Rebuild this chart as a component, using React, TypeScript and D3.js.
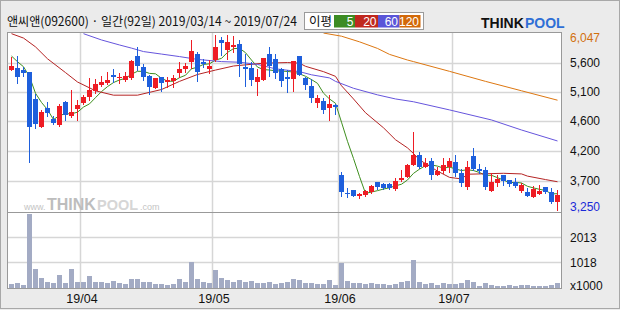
import React from 'react';
import * as d3 from 'd3';

const dates = [
  '03/14','03/15','03/18','03/19','03/20','03/21','03/22','03/25','03/26','03/27','03/28','03/29',
  '04/01','04/02','04/03','04/04','04/05','04/08','04/09','04/10','04/11','04/12','04/15','04/16','04/17','04/18','04/19','04/22','04/23','04/24','04/25','04/26','04/29','04/30',
  '05/02','05/03','05/07','05/08','05/09','05/10','05/13','05/14','05/15','05/16','05/17','05/20','05/21','05/22','05/23','05/24','05/27','05/28','05/29','05/30','05/31',
  '06/03','06/04','06/05','06/07','06/10','06/11','06/12','06/13','06/14','06/17','06/18','06/19','06/20','06/21','06/24','06/25','06/26','06/27','06/28',
  '07/01','07/02','07/03','07/04','07/05','07/08','07/09','07/10','07/11','07/12','07/15','07/16','07/17','07/18','07/19','07/22','07/23','07/24',
];

const opens = [5486,5513,5481,5449,5019,4577,4875,4705,4609,4971,4748,4859,4955,5056,5142,5242,5274,5406,5354,5322,5358,5704,5529,5385,5194,5370,5290,5306,5433,5497,5609,5736,5609,5497,5641,5959,5800,5843,5896,5529,5513,5290,5322,5736,5656,5497,5370,5342,5704,5358,5226,4960,4992,4880,4923,3807,3525,3568,3473,3484,3541,3696,3664,3664,3584,3732,3780,3972,4126,3940,4031,3812,3871,3930,4015,3839,3621,4110,3903,3887,3557,3680,3807,3727,3696,3557,3536,3462,3509,3616,3536,3377];
const highs = [5684,5704,5524,5449,5094,4844,4971,4748,4939,4992,5162,5003,5083,5354,5338,5385,5449,5497,5433,5449,5641,5853,5577,5402,5354,5370,5370,5402,5609,5593,5959,5768,5656,5641,6047,6007,6040,6023,5959,5736,5609,5497,5672,5848,5736,5513,5481,5625,5704,5374,5338,5078,5030,5078,4939,3860,3600,3568,3525,3568,3648,3696,3680,3675,3755,3887,3983,4488,4169,4074,4074,3930,4074,4074,4126,3898,4031,4238,3983,3930,3835,3807,3807,3727,3755,3675,3595,3627,3648,3616,3595,3573];
const lows = [5486,5279,5390,4019,4561,4577,4748,4625,4593,4684,4737,4684,4939,5003,5110,5226,5258,5295,5274,5306,5342,5481,5322,5094,5194,5151,5215,5215,5370,5454,5513,5306,5524,5429,5629,5720,5656,5768,5385,5226,5242,5083,5322,5385,5358,5226,5126,5151,5402,5178,4976,4896,4791,4684,4775,3477,3452,3477,3446,3473,3525,3589,3584,3589,3568,3712,3771,3962,3914,3940,3748,3812,3835,3860,3791,3637,3589,3892,3835,3580,3557,3632,3648,3632,3621,3541,3477,3452,3500,3516,3356,3250];
const closes = [5545,5374,5433,4577,4625,4812,4800,4641,4907,4759,4812,4923,5051,5162,5258,5290,5322,5374,5370,5385,5625,5550,5370,5205,5354,5269,5322,5354,5497,5545,5784,5449,5577,5545,5848,5912,5927,5875,5577,5497,5322,5370,5672,5545,5433,5306,5333,5625,5402,5242,5040,5035,4844,4939,4896,3532,3509,3477,3505,3552,3637,3621,3605,3605,3712,3760,3962,4131,3940,3994,3812,3871,3967,4031,3839,3685,3935,3903,3876,3611,3691,3744,3712,3669,3637,3643,3477,3584,3557,3541,3377,3488];
const volumes = [155,207,115,2941,752,394,235,195,513,195,752,235,235,474,235,235,195,275,195,155,354,354,235,235,155,155,115,155,354,235,1031,354,235,195,712,394,314,235,314,235,275,195,195,235,155,195,235,354,314,195,195,155,155,314,115,995,275,195,195,155,195,155,155,115,155,235,275,1110,235,155,195,115,195,155,155,195,314,235,75,195,115,75,75,115,75,115,115,75,75,75,115,195];

// closes of the 4 sessions before 03/14 (needed for the 5-day average)
const prevCloses = [5830, 5830, 5375, 5940];

// moving averages: [session index, value]
const ma20Points: [number, number][] = [[0,6060],[2,5990],[4,5850],[6,5660],[9,5440],[11,5290],[14,5150],[17,5080],[21,5080],[25,5170],[28,5300],[31,5410],[34,5480],[37,5545],[42,5590],[46,5600],[48,5590],[49,5540],[52,5455],[54,5380],[55,5230],[57,5020],[59,4800],[62,4560],[64,4370],[66,4240],[67,4150],[68,4050],[71,3870],[73,3770],[75,3745],[76,3820],[82,3835],[85,3825],[86,3790],[89,3735],[91,3700]];
const ma60Points: [number, number][] = [[12,6060],[15,5960],[18,5880],[20,5830],[22,5775],[25,5735],[28,5695],[31,5650],[35,5615],[38,5605],[41,5570],[44,5500],[48,5455],[50,5405],[53,5355],[54,5300],[57,5190],[61,5085],[64,5020],[67,4975],[73,4845],[80,4685],[85,4525],[91,4350]];
const ma120Points: [number, number][] = [[52,6070],[55,6020],[58,5930],[61,5825],[63,5730],[66,5640],[67,5615],[73,5460],[79,5300],[85,5150],[91,5000]];

const priceGridValues = [5588, 5130, 4668, 4195, 3717];
const priceTickLabels = ['5,600', '5,100', '4,600', '4,200', '3,700'];
const priceMax = 6047;
const priceMin = 3250;
const volGridValues = [2013, 1018];
const volTickLabels = ['2013', '1018'];
const monthStarts = ['04/01', '05/02', '06/03', '07/01'];
const monthLabels = ['19/04', '19/05', '19/06', '19/07'];

const title = '앤씨앤(092600) · 일간(92일) 2019/03/14 ~ 2019/07/24';
const legendLabels = ['5', '20', '60', '120'];

const RED = '#ee1c24';
const BLUE = '#1e5fdc';
const MA_COLORS = ['#3f8f1f', '#b52424', '#6655dd', '#dd7711'];
const LEGEND_BG = ['#3c8c23', '#c0281e', '#5a55d8', '#d2690a'];

export default function App() {
  const L = 7.5, R = 561.5, T = 32.5, MID = 212.5, B = 288.5;
  const x = d3.scaleBand<string>().domain(dates).range([8.5, 560.5]).paddingInner(1 / 6).paddingOuter(1 / 12);
  const bw = x.bandwidth();
  const step = x.step();
  const cx = (i: number) => (x(dates[i]) as number) + bw / 2;
  const yP = d3.scaleLinear().domain([priceMin, priceMax]).range([210, 34.5]);
  const yV = d3.scaleLinear().domain([0, 2013]).range([288, 237.4]);

  const all = [...prevCloses, ...closes];
  const ma5: [number, number][] = closes.map((_, i) => [i, d3.mean(all.slice(i, i + 5)) as number]);

  const line = d3.line<[number, number]>().x(d => cx(d[0])).y(d => yP(d[1]));
  const maSeries = [ma5, ma20Points, ma60Points, ma120Points];

  const font = 'Liberation Sans, Arial, sans-serif';
  const kfont = '"Noto Sans CJK KR", sans-serif';

  return (
    <svg width={620} height={310} style={{ position: 'absolute', left: 0, top: 0, display: 'block' }}>
      <defs>
        <clipPath id="pclip"><rect x={8} y={33} width={553} height={179} /></clipPath>
      </defs>
      <rect x={0} y={0} width={620} height={310} fill="#ebebeb" />
      <rect x={0.5} y={0.5} width={619} height={308} fill="none" stroke="#a8a8a8" />

      {/* title */}
      <text x={7} y={26} fontFamily={kfont} fontSize={12.5} fill="#111" textLength={290} lengthAdjust="spacingAndGlyphs">{title}</text>

      {/* legend */}
      <rect x={304.5} y={12.5} width={119} height={17} fill="#fff" stroke="#9a9a9a" />
      <text x={309} y={26} fontFamily={kfont} fontSize={12.5} fill="#111">이평</text>
      {legendLabels.map((lab, k) => {
        const xs = [334, 355, 378, 399.5, 420.5];
        return (
          <g key={lab}>
            <rect x={xs[k]} y={15} width={xs[k + 1] - xs[k]} height={12.5} fill={LEGEND_BG[k]} />
            <text x={xs[k + 1] - 1.5} y={25.5} textAnchor="end" fontFamily={font} fontSize={12} fill="#fff">{lab}</text>
          </g>
        );
      })}

      {/* logo */}
      <text x={481} y={28} fontFamily={font} fontWeight="bold" fontSize={14} fill="#111">THINK</text>
      <text x={525} y={28} fontFamily={font} fontWeight="bold" fontSize={14} fill="#2f6fd6">POOL</text>

      {/* plot background */}
      <rect x={L} y={T} width={R - L} height={B - T} fill="#fff" />

      {/* grids */}
      {priceGridValues.map(v => (
        <line key={v} x1={L} x2={R} y1={Math.round(yP(v)) + 0.5} y2={Math.round(yP(v)) + 0.5} stroke="#d6d6d6" strokeWidth={1.5} />
      ))}
      {volGridValues.map(v => (
        <line key={v} x1={L} x2={R} y1={Math.round(yV(v)) + 0.5} y2={Math.round(yV(v)) + 0.5} stroke="#d6d6d6" strokeWidth={1.5} />
      ))}
      {monthStarts.map(d => {
        const gx = (x(d) as number) - (step - bw) / 2;
        return <line key={d} x1={gx} x2={gx} y1={T} y2={B} stroke="#d6d6d6" strokeWidth={1.5} />;
      })}

      {/* watermark */}
      <g fontFamily="Liberation Sans, Arial, sans-serif">
        <text x={24} y={210} fontSize={9} fill="#c4c4c4">www.</text>
        <text x={47} y={210} fontSize={16} fontWeight="bold" fill="#bdbdbd">THINK</text>
        <text x={97} y={210} fontSize={14.5} fontWeight="bold" fill="#d6d6d6">POOL</text>
        <text x={140} y={210} fontSize={9} fill="#c4c4c4">.com</text>
      </g>

      {/* volume bars */}
      {volumes.map((v, i) => (
        <rect key={i} x={x(dates[i])} y={Math.round(yV(v))} width={bw} height={288 - Math.round(yV(v))} fill="#a3abc4" />
      ))}

      {/* moving averages */}
      <g clipPath="url(#pclip)" fill="none">
        {maSeries.map((s, k) => (
          <path key={k} d={line(s) as string} stroke={MA_COLORS[k]} strokeWidth={1} />
        ))}
      </g>

      {/* candles */}
      <g clipPath="url(#pclip)">
        {closes.map((c, i) => {
          const o = opens[i];
          const up = c >= o;
          const col = up ? RED : BLUE;
          const top = Math.round(yP(Math.max(o, c)));
          const bot = Math.round(yP(Math.min(o, c)));
          const xc = Math.floor(cx(i)) + 0.5;
          return (
            <g key={i}>
              <line x1={xc} x2={xc} y1={Math.round(yP(highs[i]))} y2={Math.round(yP(lows[i])) + 1} stroke={col} strokeWidth={1} />
              <rect x={x(dates[i])} y={top} width={bw} height={Math.max(1, bot - top)} fill={col} />
            </g>
          );
        })}
      </g>

      {/* frame */}
      <rect x={L} y={T} width={R - L} height={B - T} fill="none" stroke="#999" />
      <line x1={L} x2={R} y1={MID} y2={MID} stroke="#999" />

      {/* right axis labels */}
      <g fontFamily={font} fontSize={12} dominantBaseline="middle">
        <text x={570} y={39} fill="#d2700e">6,047</text>
        {priceGridValues.map((v, k) => (
          <text key={v} x={570} y={yP(v) + 1} fill="#111">{priceTickLabels[k]}</text>
        ))}
        <text x={570} y={207.5} fill="#1a2ad8">3,250</text>
        {volGridValues.map((v, k) => (
          <text key={v} x={570} y={yV(v) + 1} fill="#111">{volTickLabels[k]}</text>
        ))}
        <text x={570} y={286.5} fill="#111">x1000</text>
      </g>

      {/* bottom axis labels */}
      <g fontFamily={font} fontSize={12.5} textAnchor="middle">
        {monthStarts.map((d, k) => (
          <text key={d} x={(x(d) as number) + 1} y={303} fill="#111">{monthLabels[k]}</text>
        ))}
      </g>
    </svg>
  );
}
